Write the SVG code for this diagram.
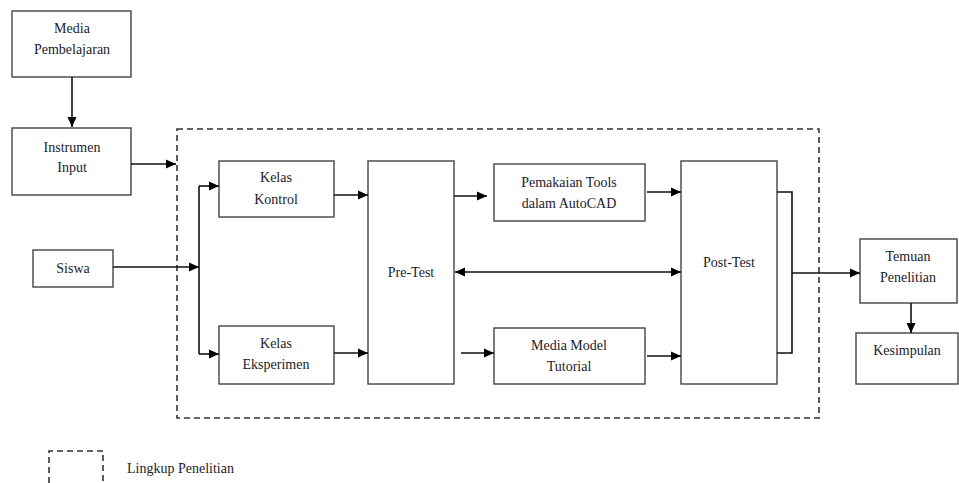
<svg xmlns="http://www.w3.org/2000/svg" width="959" height="483" viewBox="0 0 959 483">
<defs>
<marker id="ah" viewBox="0 0 10 10" refX="10" refY="5" markerWidth="10" markerHeight="10" markerUnits="userSpaceOnUse" orient="auto-start-reverse">
<path d="M0,0.5 L10,5 L0,9.5 Z" fill="#000"/>
</marker>
<style>
.box{fill:#fff;stroke:#444;stroke-width:1.4}
.dash{fill:none;stroke:#333;stroke-width:1.6;stroke-dasharray:6,4}
text{font-family:'Liberation Serif','DejaVu Serif','Times New Roman',serif;font-size:14px;fill:#1a1a2a}
.t{text-anchor:middle}
.c{fill:none;stroke:#111;stroke-width:1.6}
.ca{fill:none;stroke:#111;stroke-width:1.6;marker-end:url(#ah)}
.cb{fill:none;stroke:#111;stroke-width:1.6;marker-end:url(#ah);marker-start:url(#ah)}
</style>
</defs>
<rect width="959" height="483" fill="#fff"/>
<rect class="dash" x="177" y="129" width="642" height="289"/>
<g id="media"><rect class="box" x="12" y="11" width="119" height="66"/><text class="t" x="72" y="33" font-family="Liberation Serif, serif">Media</text><text class="t" x="72" y="54" font-family="Liberation Serif, serif">Pembelajaran</text></g>
<g id="instrumen"><rect class="box" x="12" y="128" width="119" height="67"/><text class="t" x="72" y="152" font-family="Liberation Serif, serif">Instrumen</text><text class="t" x="72" y="172" font-family="Liberation Serif, serif">Input</text></g>
<g id="siswa"><rect class="box" x="33" y="250" width="80" height="37"/><text class="t" x="73" y="273" font-family="Liberation Serif, serif">Siswa</text></g>
<g id="kontrol"><rect class="box" x="219" y="161" width="115" height="56"/><text class="t" x="276" y="182" font-family="Liberation Serif, serif">Kelas</text><text class="t" x="276" y="204" font-family="Liberation Serif, serif">Kontrol</text></g>
<g id="eksperimen"><rect class="box" x="219" y="326" width="115" height="58"/><text class="t" x="276" y="348" font-family="Liberation Serif, serif">Kelas</text><text class="t" x="276" y="369" font-family="Liberation Serif, serif">Eksperimen</text></g>
<g id="pretest"><rect class="box" x="368" y="161" width="86" height="223"/><text class="t" x="411" y="277" font-family="Liberation Serif, serif">Pre-Test</text></g>
<g id="pemakaian"><rect class="box" x="494" y="164" width="151" height="57"/><text class="t" x="569" y="187" font-family="Liberation Serif, serif">Pemakaian Tools</text><text class="t" x="569" y="208" font-family="Liberation Serif, serif">dalam AutoCAD</text></g>
<g id="mediamodel"><rect class="box" x="494" y="328" width="151" height="56"/><text class="t" x="569" y="350" font-family="Liberation Serif, serif">Media Model</text><text class="t" x="569" y="371" font-family="Liberation Serif, serif">Tutorial</text></g>
<g id="posttest"><rect class="box" x="681" y="161" width="96" height="223"/><text class="t" x="729" y="267" font-family="Liberation Serif, serif">Post-Test</text></g>
<g id="temuan"><rect class="box" x="860" y="239" width="97" height="64"/><text class="t" x="908" y="261" font-family="Liberation Serif, serif">Temuan</text><text class="t" x="908" y="282" font-family="Liberation Serif, serif">Penelitian</text></g>
<g id="kesimpulan"><rect class="box" x="856" y="333" width="102" height="51"/><text class="t" x="907" y="355" font-family="Liberation Serif, serif">Kesimpulan</text></g>
<g id="connectors">
<line class="ca" x1="72" y1="77" x2="72" y2="127"/>
<line class="ca" x1="131" y1="164" x2="176" y2="164"/>
<line class="ca" x1="113" y1="267" x2="199" y2="267"/>
<line class="c" x1="199" y1="186" x2="199" y2="354"/>
<line class="ca" x1="199" y1="186" x2="219" y2="186"/>
<line class="ca" x1="199" y1="354" x2="219" y2="354"/>
<line class="ca" x1="334" y1="195" x2="368" y2="195"/>
<line class="ca" x1="334" y1="353" x2="368" y2="353"/>
<line class="ca" x1="454" y1="196" x2="487" y2="196"/>
<line class="ca" x1="461" y1="353" x2="494" y2="353"/>
<line class="ca" x1="647" y1="192" x2="681" y2="192"/>
<line class="ca" x1="647" y1="356" x2="681" y2="356"/>
<line class="cb" x1="455" y1="272" x2="681" y2="272"/>
<polyline class="c" points="777,192 792,192 792,353 777,353"/>
<line class="ca" x1="792" y1="273" x2="860" y2="273"/>
<line class="ca" x1="911" y1="303" x2="911" y2="333"/>
</g>
<g id="legend">
<polyline class="dash" points="49,483 49,451 103,451 103,483"/>
<text x="127" y="473" font-family="Liberation Serif, serif">Lingkup Penelitian</text>
</g>
</svg>
